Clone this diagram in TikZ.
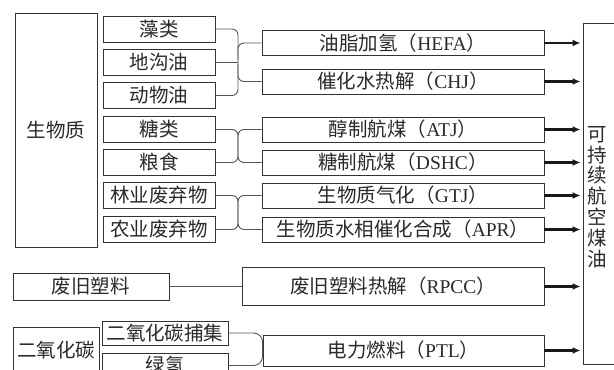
\documentclass[tikz,border=0pt]{standalone}
\usepackage{fontspec}
\setmainfont{Liberation Serif}
\newfontfamily\cjk{Noto Sans CJK SC}
\usetikzlibrary{arrows.meta}
\definecolor{txtc}{HTML}{2A2A2A}
\definecolor{boxc}{HTML}{333333}
\definecolor{conc}{HTML}{555555}
\tikzset{
  bx/.style={draw=boxc, line width=0.9pt, fill=white, inner sep=0pt, text=txtc,
    font=\fontsize{19.5}{21}\selectfont\cjk},
  conn/.style={draw=conc, line width=0.9pt, rounded corners=6pt},
  arr/.style={draw=black!90, line width=2.3pt, -{Latex[length=8pt,width=7pt]}, shorten >=2pt}
}
\begin{document}
\begin{tikzpicture}[x=1pt,y=-1pt]
\useasboundingbox (0,0) rectangle (614,370);
\clip (0,0) rectangle (614,370);
% left sources
\node[bx, minimum width=82pt, minimum height=234pt] (bio) at (56,130) {生物质};
\node[bx, minimum width=112pt, minimum height=26pt] (zao) at (159,29) {藻类};
\node[bx, minimum width=112pt, minimum height=26pt] (digou) at (159,62) {地沟油};
\node[bx, minimum width=112pt, minimum height=26pt] (dongwu) at (159,95.5) {动物油};
\node[bx, minimum width=112pt, minimum height=26pt] (tang) at (159,129.5) {糖类};
\node[bx, minimum width=112pt, minimum height=26pt] (liang) at (159,162.5) {粮食};
\node[bx, minimum width=112pt, minimum height=26pt] (lin) at (159,195.5) {林业废弃物};
\node[bx, minimum width=112pt, minimum height=26pt] (nong) at (159,229.5) {农业废弃物};
\node[bx, minimum width=156pt, minimum height=27pt] (plastic) at (91,286.5) {废旧塑料};
\node[bx, minimum width=86pt, minimum height=46pt] (co2) at (56,350) {二氧化碳};
\node[bx, minimum width=126pt, minimum height=24pt] (capture) at (165,333) {二氧化碳捕集};
\node[bx, minimum width=126pt, minimum height=25pt] (h2) at (165,365.5) {绿氢};
% processes
\node[bx, minimum width=282pt, minimum height=25pt] (hefa) at (403,43) {油脂加氢（{\rmfamily HEFA}）};
\node[bx, minimum width=282pt, minimum height=25pt] (chj) at (403,81.5) {催化水热解（{\rmfamily CHJ}）};
\node[bx, minimum width=282pt, minimum height=25pt] (atj) at (403,129.5) {醇制航煤（{\rmfamily ATJ}）};
\node[bx, minimum width=282pt, minimum height=25pt] (dshc) at (403,162.5) {糖制航煤（{\rmfamily DSHC}）};
\node[bx, minimum width=282pt, minimum height=25pt] (gtj) at (403,195.5) {生物质气化（{\rmfamily GTJ}）};
\node[bx, minimum width=282pt, minimum height=25pt] (apr) at (403,229.5) {生物质水相催化合成（{\rmfamily APR}）};
\node[bx, minimum width=302pt, minimum height=38pt] (rpcc) at (393,286.5) {废旧塑料热解（{\rmfamily RPCC}）};
\node[bx, minimum width=281pt, minimum height=31pt] (ptl) at (403.5,350.5) {电力燃料（{\rmfamily PTL}）};
% product
\node[bx, minimum width=50pt, minimum height=341pt] (saf) at (608,193.5) {};
\node[text=txtc, align=center, inner sep=0pt, font=\fontsize{19.5}{20.8}\selectfont\cjk] (saflabel) at (597,197) {可\\持\\续\\航\\空\\煤\\油};
% junction coordinates
\coordinate (j1) at (238,62);
\coordinate (j1a) at (238,29);
\coordinate (j1b) at (238,95.5);
\coordinate (j2a) at (238,129.5);
\coordinate (j2b) at (238,162.5);
\coordinate (j3a) at (238,195.5);
\coordinate (j3b) at (238,229.5);
% connectors
\draw[conn] (zao.east) -- (j1a) -- (j1b) -- (dongwu.east);
\draw[conn] (digou.east) -- (j1);
\draw[conn] (hefa.west) -- (j1a |- hefa.west) -- (238,60);
\draw[conn] (chj.west) -- (j1a |- chj.west) -- (238,64);
\draw[conn] (tang.east) -- (j2a) -- (j2b) -- (liang.east);
\draw[conn] (atj.west) -- (j2a) -- (j2b) -- (dshc.west);
\draw[conn] (lin.east) -- (j3a) -- (j3b) -- (nong.east);
\draw[conn] (gtj.west) -- (j3a) -- (j3b) -- (apr.west);
\draw[conn] (plastic.east) -- (rpcc.west);
\draw[conn, rounded corners=9pt] (capture.east) -- (ptl.west |- capture.east) -- (ptl.west |- h2.east) -- (h2.east);
% arrows
\foreach \n in {hefa,chj,atj,dshc,gtj,apr,rpcc,ptl}
  \draw[arr] (\n.east) -- (saf.west |- \n.east);
\end{tikzpicture}
\end{document}
